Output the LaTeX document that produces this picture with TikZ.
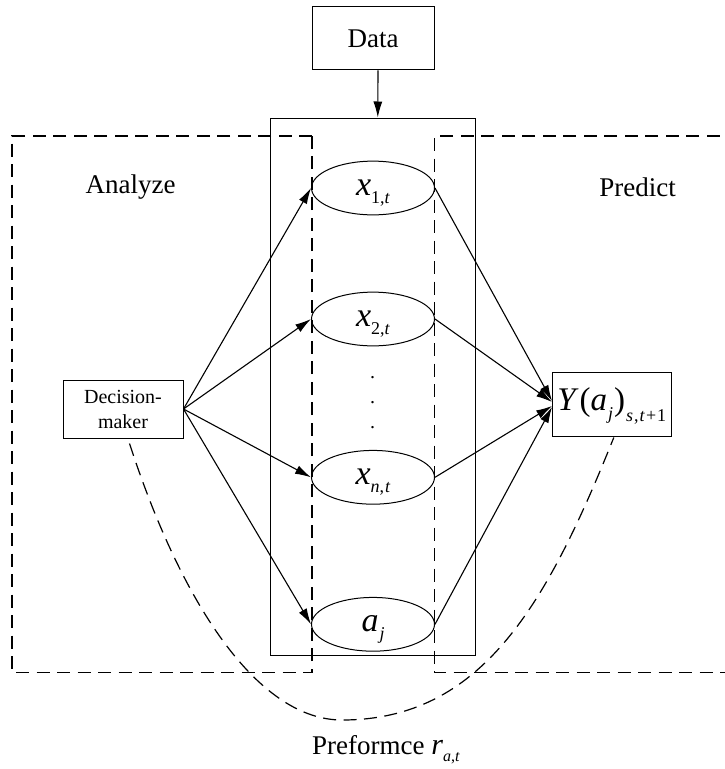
\documentclass[tikz,border=0pt]{standalone}
\usepackage{fontspec}
\setmainfont{Liberation Serif}
\usetikzlibrary{shapes.geometric,arrows.meta}

% lowered small index, Times style
\newcommand{\lowsub}[2][-8pt]{\raisebox{#1}{\fontsize{18}{18}\selectfont #2}}

\tikzset{
    box/.style={draw, line width=1pt, rectangle, inner sep=1pt},
    var/.style={draw, line width=1pt, ellipse, minimum width=123pt, minimum height=48pt, inner sep=0pt,
        text height=26pt, text depth=12pt, font=\fontsize{34}{36}\selectfont},
    link/.style={line width=1.1pt, -{Latex[length=16pt,width=9pt]}},
    region/.style={line width=1.2pt, dash pattern=on 13pt off 7.5pt}
}

\begin{document}
\begin{tikzpicture}[x=1pt, y=-1pt]
                \useasboundingbox (0,0) rectangle (725,769);

                \node[box, minimum width=122pt, minimum height=63pt, font=\fontsize{27}{30}\selectfont] (data) at (373, 38.3) {Data};
                \node[box, minimum width=204.5pt, minimum height=537pt] (frame) at (372.8, 386.5) {};

                \draw[region] (312, 136) -- (12, 136) -- (12, 672.5) -- (312, 672.5) -- cycle;
                \draw[region] (740, 136) -- (434.5, 136) -- (434.5, 672.5) -- (740, 672.5);

                \node[font=\fontsize{27}{30}\selectfont] (analyze) at (130.5, 187) {Analyze};
                \node[font=\fontsize{27}{30}\selectfont] (predict) at (637.5, 187) {Predict};

                \node[var] (x1) at (373, 188) {\textit{x}\lowsub{1,\textit{t}}};
                \node[var] (x2) at (373, 319) {\textit{x}\lowsub{2,\textit{t}}};
                \node[align=center, font=\fontsize{20}{25}\selectfont] (dots) at (372.6, 403) {.\\.\\.};
                \node[var] (xn) at (373, 477.3) {\textit{x}\lowsub{\textit{n},\kern1pt\textit{t}}};
                \node[var] (aj) at (373, 624.3) {\textit{a}\lowsub{\kern1pt\textit{j}}};

                \node[box, minimum width=120pt, minimum height=58pt, align=center, font=\fontsize{20}{25}\selectfont] (dm) at (123, 409) {Decision-\\maker};
                \node[box, minimum width=118.5pt, minimum height=64pt, text height=26pt, text depth=14pt, font=\fontsize{33}{36}\selectfont] (y) at (611.8, 404)
                    {\textit{Y}\kern1pt(\textit{a}\lowsub[-9pt]{\kern1pt\textit{j}}\kern1pt)\lowsub[-11pt]{\kern1pt\textit{s}\kern1pt,\kern1pt\textit{t}\kern1pt+\kern1pt1}};

                \node[font=\fontsize{27}{30}\selectfont] (perf) at (386, 750) {Preformce {\fontsize{30}{30}\selectfont\textit{r}}\lowsub[-7pt]{\fontsize{16}{16}\selectfont\textit{a},\textit{t}}};

                \draw[link] ([xshift=5pt]data.south) -- ([xshift=5pt]frame.north);

                \draw[link] (dm.east) -- (x1.west);
                \draw[link] (dm.east) -- (x2.west);
                \draw[link] (dm.east) -- (xn.west);
                \draw[link] (dm.east) -- (aj.west);

                \draw[link] (x1.east) -- ([yshift=3pt]y.west);
                \draw[link] (x2.east) -- ([yshift=2pt]y.west);
                \draw[link] (xn.east) -- ([yshift=-2pt]y.west);
                \draw[link] (aj.east) -- ([yshift=-3pt]y.west);

                \draw[region]
                ([shift={(6.5pt,-5pt)}]dm.south) .. controls (185, 614) and (262, 720) .. (342, 720)
                .. controls (482, 720) and (547, 604) .. ([shift={(2pt,-1pt)}]y.south);
            \end{tikzpicture}
\end{document}
